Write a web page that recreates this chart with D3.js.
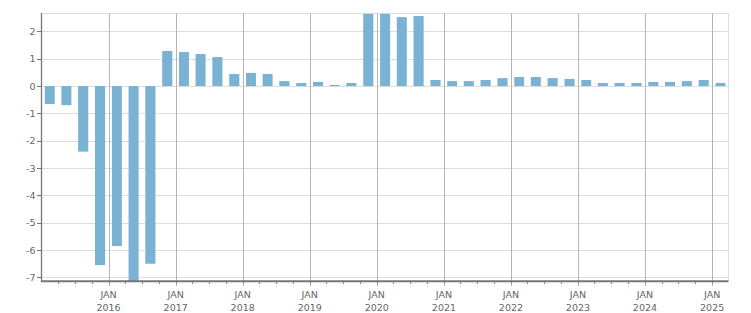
<!DOCTYPE html>
<html>
<head>
<meta charset="utf-8">
<script src="https://cdn.jsdelivr.net/npm/d3@7"></script>
<style>
  body { margin: 0; background: #fff; }
  text { font-family: "DejaVu Sans", sans-serif; font-size: 9.5px; fill: #666; }
</style>
</head>
<body>
<svg class="chart" width="751" height="313"></svg>
<script>
// quarterly data, start of each quarter
var quarters = [
    "2015-01-01", "2015-04-01", "2015-07-01", "2015-10-01",
    "2016-01-01", "2016-04-01", "2016-07-01", "2016-10-01",
    "2017-01-01", "2017-04-01", "2017-07-01", "2017-10-01",
    "2018-01-01", "2018-04-01", "2018-07-01", "2018-10-01",
    "2019-01-01", "2019-04-01", "2019-07-01", "2019-10-01",
    "2020-01-01", "2020-04-01", "2020-07-01", "2020-10-01",
    "2021-01-01", "2021-04-01", "2021-07-01", "2021-10-01",
    "2022-01-01", "2022-04-01", "2022-07-01", "2022-10-01",
    "2023-01-01", "2023-04-01", "2023-07-01", "2023-10-01",
    "2024-01-01", "2024-04-01", "2024-07-01", "2024-10-01",
    "2025-01-01"
];
var values = [
    -0.66, -0.70, -2.40, -6.55,
    -5.85, -7.15, -6.50, 1.28,
    1.24, 1.17, 1.06, 0.44,
    0.48, 0.44, 0.18, 0.11,
    0.15, 0.04, 0.11, 2.64,
    2.64, 2.52, 2.56, 0.22,
    0.18, 0.18, 0.22, 0.29,
    0.33, 0.33, 0.29, 0.26,
    0.22, 0.11, 0.11, 0.11,
    0.15, 0.15, 0.18, 0.22,
    0.11
];
var yTicks = [-7, -6, -5, -4, -3, -2, -1, 0, 1, 2];
var yearTicks = [2016, 2017, 2018, 2019, 2020, 2021, 2022, 2023, 2024, 2025];

var parse = d3.timeParse("%Y-%m-%d");
var plotLeft = 41.5, plotRight = 728.5, plotTop = 13.3, plotBottom = 280.7;

var svg = d3.select(".chart");

var x = d3.scaleTime()
    .domain([parse("2015-01-01"), parse("2025-03-31")])
    .range([plotLeft, plotRight]);
var y = d3.scaleLinear()
    .domain([-7.12, 2.66])
    .range([plotBottom, plotTop]);

// horizontal grid
svg.append("g").selectAll("line")
    .data(yTicks)
    .enter().append("line")
    .attr("x1", plotLeft).attr("x2", plotRight)
    .attr("y1", function (d) { return Math.round(y(d)) + 0.5; })
    .attr("y2", function (d) { return Math.round(y(d)) + 0.5; })
    .style("stroke", "#dddddd");

svg.append("line")
    .attr("x1", plotLeft).attr("x2", plotRight)
    .attr("y1", 13.5).attr("y2", 13.5)
    .style("stroke", "#dddddd");
svg.append("line")
    .attr("x1", 728.5).attr("x2", 728.5)
    .attr("y1", 13).attr("y2", plotBottom)
    .style("stroke", "#dddddd");

// vertical grid at january
var years = yearTicks.map(function (yr) { return new Date(yr, 0, 1); });
svg.append("g").selectAll("line")
    .data(years)
    .enter().append("line")
    .attr("x1", function (d) { return Math.round(x(d)) + 0.5; })
    .attr("x2", function (d) { return Math.round(x(d)) + 0.5; })
    .attr("y1", plotTop).attr("y2", 286)
    .style("stroke", "#b4b4b4");

// bars
var data = quarters.map(function (q, i) {
    var start = parse(q);
    return { start: start, end: d3.timeMonth.offset(start, 3), value: values[i] };
});

svg.append("g").selectAll("rect")
    .data(data)
    .enter().append("rect")
    .attr("x", function (d) {
        var w = x(d.end) - x(d.start);
        return x(d.start) + w * 0.2;
    })
    .attr("width", function (d) { return (x(d.end) - x(d.start)) * 0.6; })
    .attr("y", function (d) { return y(Math.max(0, d.value)); })
    .attr("height", function (d) { return Math.abs(y(d.value) - y(0)); })
    .style("fill", "#79b2d3");

// minor ticks on x axis, every quarter
var minor = d3.timeMonth.every(3).range(parse("2015-04-01"), parse("2025-03-31"));
svg.append("g").selectAll("line")
    .data(minor)
    .enter().append("line")
    .attr("x1", function (d) { return Math.round(x(d)) + 0.5; })
    .attr("x2", function (d) { return Math.round(x(d)) + 0.5; })
    .attr("y1", plotBottom).attr("y2", 284)
    .style("stroke", "#888");

// axis lines
svg.append("line")
    .attr("x1", 41.5).attr("x2", 41.5)
    .attr("y1", 13).attr("y2", 282)
    .style("stroke", "#777")
    .style("stroke-width", 1.3);
svg.append("line")
    .attr("x1", 41).attr("x2", plotRight)
    .attr("y1", 281.3).attr("y2", 281.3)
    .style("stroke", "#777")
    .style("stroke-width", 2);

// y tick marks and labels
var yAxis = svg.append("g");
yAxis.selectAll("line")
    .data(yTicks)
    .enter().append("line")
    .attr("x1", 37).attr("x2", 41)
    .attr("y1", function (d) { return Math.round(y(d)) + 0.5; })
    .attr("y2", function (d) { return Math.round(y(d)) + 0.5; })
    .style("stroke", "#777");
yAxis.selectAll("text")
    .data(yTicks)
    .enter().append("text")
    .attr("x", 35.5)
    .attr("y", function (d) { return y(d) + 3.5; })
    .attr("text-anchor", "end")
    .text(function (d) { return d < 0 ? "-" + Math.abs(d) : d; });

// x labels
var xAxis = svg.append("g").selectAll("g")
    .data(years)
    .enter().append("g")
    .attr("transform", function (d) { return "translate(" + x(d) + ",0)"; });
xAxis.append("text")
    .attr("y", 297.5)
    .attr("text-anchor", "middle")
    .text("JAN");
xAxis.append("text")
    .attr("y", 311)
    .attr("text-anchor", "middle")
    .text(function (d) { return d.getFullYear(); });
</script>
</body>
</html>
